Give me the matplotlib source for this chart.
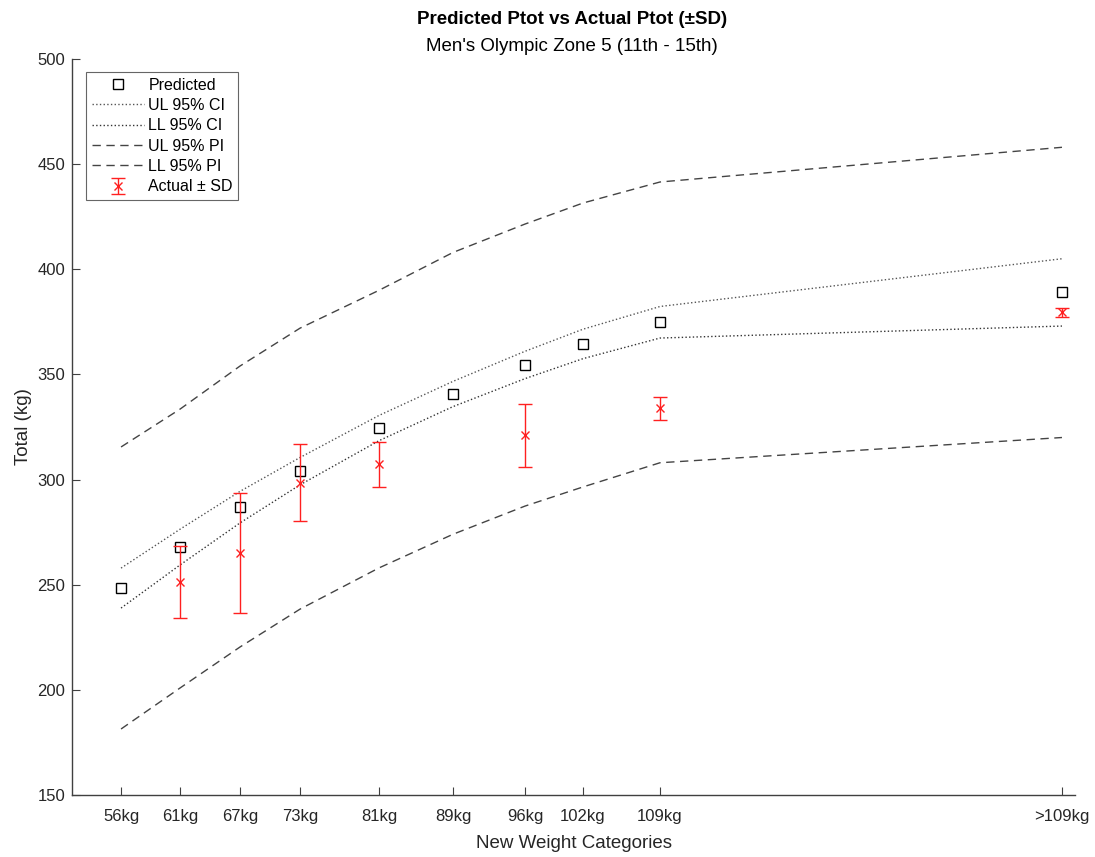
import numpy as np
import matplotlib
matplotlib.use("Agg")
import matplotlib.pyplot as plt

plt.rcParams['font.family'] = ['Liberation Sans', 'DejaVu Sans']

# weight categories (x positions follow the plotted spacing)
categories = ['56kg', '61kg', '67kg', '73kg', '81kg', '89kg', '96kg', '102kg', '109kg', '>109kg']
x_pos = [55.1, 61, 67, 73, 80.9, 88.3, 95.5, 101.3, 109, 149.2]

# predicted totals
predicted = [248.4, 267.9, 286.9, 304.0, 324.5, 340.7, 354.5, 364.5, 374.8, 389.0]

# 95% confidence interval limits
ul_ci = [257.9, 276.4, 294.4, 310.5, 330.5, 346.7, 361.0, 371.5, 382.3, 405.0]
ll_ci = [238.9, 259.4, 279.4, 297.5, 318.5, 334.7, 348.0, 357.5, 367.3, 373.0]

# 95% prediction interval limits
ul_pi = [315.5, 333.5, 354.0, 372.0, 390.0, 408.0, 421.5, 431.5, 441.5, 458.0]
ll_pi = [181.4, 200.9, 220.4, 238.4, 258.0, 274.0, 287.4, 296.5, 308.0, 320.0]

# actual totals (mean and SD) for categories with data
actual_cats = ['61kg', '67kg', '73kg', '81kg', '96kg', '109kg', '>109kg']
actual_mean = [251.5, 265.0, 298.6, 307.3, 321.0, 333.9, 379.5]
actual_sd = [17.1, 28.5, 18.2, 10.8, 15.1, 5.5, 2.2]

fig = plt.figure(figsize=(10.95, 8.57), dpi=100)
ax = fig.add_axes([0.0658, 0.0723, 0.9159, 0.8589])

ax.plot(x_pos, predicted, 's', mfc='none', mec='black', ms=7, mew=1.0,
        label='Predicted')
ax.plot(x_pos, ul_ci, ':', color='#555555', lw=1.0, label='UL 95% CI')
ax.plot(x_pos, ll_ci, ':', color='#333333', lw=1.0, label='LL 95% CI')
ax.plot(x_pos, ul_pi, '--', color='#444444', lw=1.0, dashes=(6, 4),
        label='UL 95% PI')
ax.plot(x_pos, ll_pi, '--', color='#444444', lw=1.0, dashes=(6, 4),
        label='LL 95% PI')

ax_x = [x_pos[categories.index(c)] for c in actual_cats]
ax.errorbar(ax_x, actual_mean, yerr=actual_sd, fmt='x', color='#ff2020',
            ecolor='#ff2020', ms=6, mew=1.0, elinewidth=1.0, capsize=5,
            capthick=1.0, label='Actual ± SD')

ax.set_xlim(50.2, 150.5)
ax.set_ylim(150, 500)
ax.set_xticks(x_pos)
ax.set_xticklabels(categories)
ax.set_yticks(np.arange(150, 501, 50))

for side in ['top', 'right']:
    ax.spines[side].set_visible(False)
for side in ['left', 'bottom']:
    ax.spines[side].set_color('#404040')
    ax.spines[side].set_linewidth(1.0)
ax.tick_params(direction='in', length=6, width=0.8, colors='#404040',
               labelcolor='#262626', labelsize=12)
ax.tick_params(axis='x', pad=10)
ax.tick_params(axis='y', pad=5)

ax.set_xlabel('New Weight Categories', fontsize=13.5, color='#262626', labelpad=8)
ax.set_ylabel('Total (kg)', fontsize=13.5, color='#262626', labelpad=4)

fig.text(0.5227, 0.977, 'Predicted Ptot vs Actual Ptot (±SD)', ha='center',
         va='center', fontsize=13.5, fontweight='bold', color='black')
fig.text(0.5227, 0.946, "Men's Olympic Zone 5 (11th - 15th)", ha='center',
         va='center', fontsize=13.5, color='black')

leg = ax.legend(loc='upper left', bbox_to_anchor=(0.014, 0.982), fontsize=11.5,
                frameon=True, fancybox=False, edgecolor='#404040',
                handlelength=3.3, borderpad=0.35, labelspacing=0.33,
                handletextpad=0.25, borderaxespad=0)
leg.get_frame().set_linewidth(0.8)

fig.savefig('out.png', dpi=100)
